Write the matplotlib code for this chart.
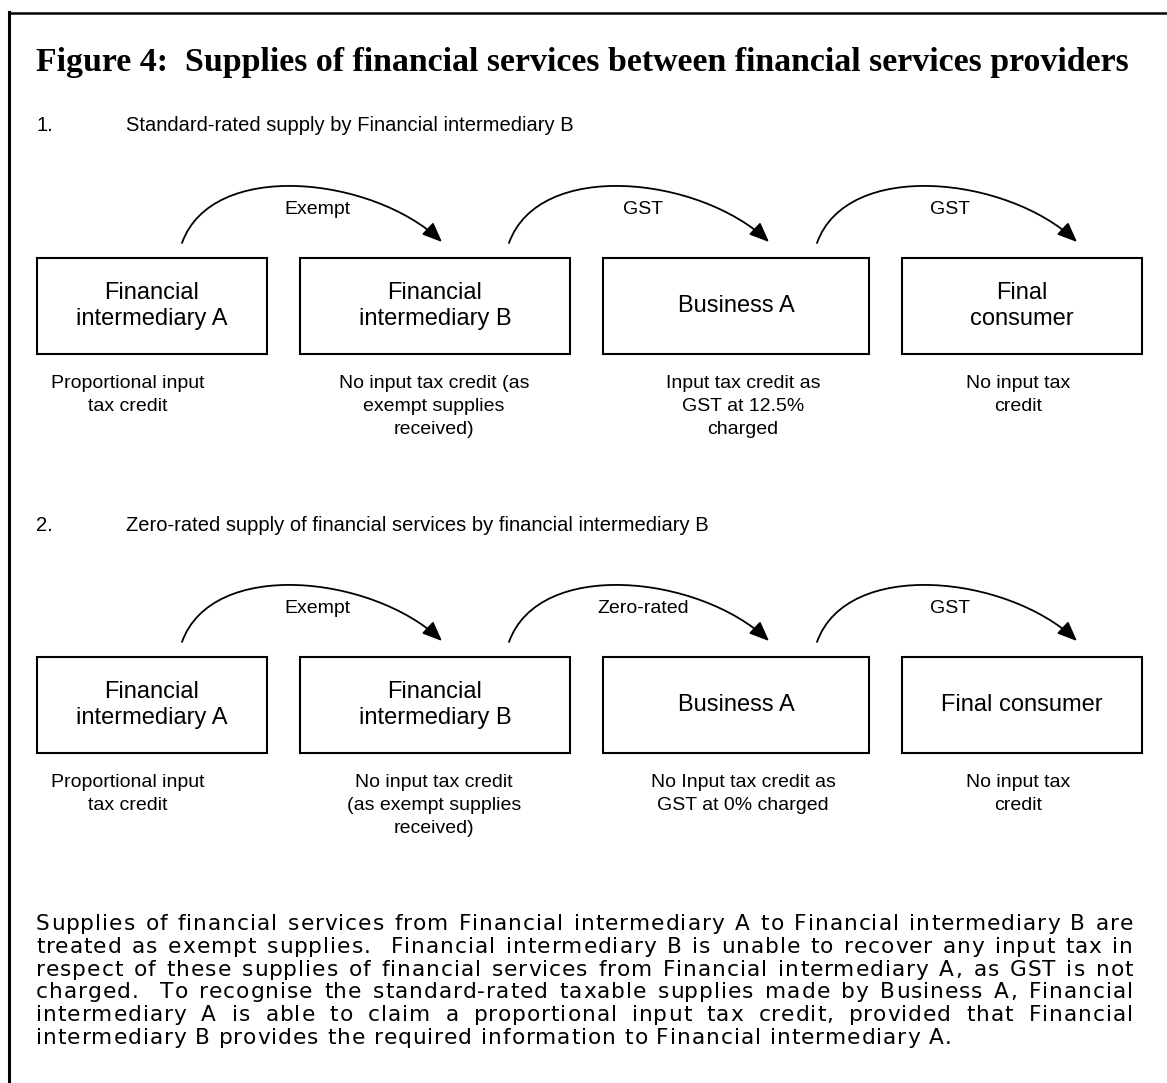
import matplotlib
matplotlib.use("Agg")
import matplotlib.pyplot as plt
from matplotlib.patches import Rectangle, FancyArrowPatch, ArrowStyle
from matplotlib.path import Path
from matplotlib.lines import Line2D

# ---------------- content ----------------
title = "Figure 4:  Supplies of financial services between financial services providers"
section_numbers = ["1.", "2."]
section_titles = ["Standard-rated supply by Financial intermediary B",
                  "Zero-rated supply of financial services by financial intermediary B"]

box_labels_1 = [["Financial", "intermediary A"], ["Financial", "intermediary B"],
                ["Business A"], ["Final", "consumer"]]
box_labels_2 = [["Financial", "intermediary A"], ["Financial", "intermediary B"],
                ["Business A"], ["Final consumer"]]

flow_labels_1 = ["Exempt", "GST", "GST"]
flow_labels_2 = ["Exempt", "Zero-rated", "GST"]

captions_1 = [["Proportional input", "tax credit"],
              ["No input tax credit (as", "exempt supplies", "received)"],
              ["Input tax credit as", "GST at 12.5%", "charged"],
              ["No input tax", "credit"]]
captions_2 = [["Proportional input", "tax credit"],
              ["No input tax credit", "(as exempt supplies", "received)"],
              ["No Input tax credit as", "GST at 0% charged"],
              ["No input tax", "credit"]]

paragraph_lines = [
    "Supplies of financial services from Financial intermediary A to Financial intermediary B are",
    "treated as exempt supplies.  Financial intermediary B is unable to recover any input tax in",
    "respect of these supplies of financial services from Financial intermediary A, as GST is not",
    "charged.  To recognise the standard-rated taxable supplies made by Business A, Financial",
    "intermediary A is able to claim a proportional input tax credit, provided that Financial",
    "intermediary B provides the required information to Financial intermediary A.",
]

# ---------------- layout (pixel coordinates) ----------------
W, H = 1167, 1083
SANS = "Liberation Sans"
SERIF = "Liberation Serif"
PARA_FONT = "DejaVu Sans"

box_x = [(37, 267), (300, 570), (603, 869), (902, 1142)]
row_offsets = [0, 399]
box_top, box_bot = 258, 354
caption_x = [128, 434, 743, 1018]
arrow_starts = [182, 509, 817]
arrow_len = 260
label_x = [317, 643, 950]

fig = plt.figure(figsize=(W / 100, H / 100), dpi=100)
ax = fig.add_axes([0, 0, 1, 1])
ax.set_xlim(0, W)
ax.set_ylim(H, 0)
ax.axis("off")

# outer frame (clipped at right and bottom)
ax.add_line(Line2D([9, 9], [12, H + 10], color="black", lw=2.2, clip_on=False))
ax.add_line(Line2D([9, W + 10], [13, 13], color="black", lw=1.8, clip_on=False))

renderer = fig.canvas.get_renderer()


def text_width(s, **kw):
    t = ax.text(0, 0, s, **kw)
    w = t.get_window_extent(renderer=renderer).width
    t.remove()
    return w


# title, fitted to span the frame width
title_size = 17.0
tw = text_width(title, fontsize=title_size, family=SERIF, fontweight="bold")
title_size *= (1133 - 36) / tw
ax.text(36, 71, title, fontsize=title_size, family=SERIF, fontweight="bold",
        ha="left", va="baseline")

# section headings
for num, st, yb in zip(section_numbers, section_titles, [131, 531]):
    ax.text(36, yb, num, fontsize=14.5, family=SANS, ha="left", va="baseline")
    ax.text(126, yb, st, fontsize=14.5, family=SANS, ha="left", va="baseline")

arrow_style = ArrowStyle("-|>", head_length=1.2, head_width=0.5)


def draw_row(off, labels, flows, caps):
    for (x0, x1), lab in zip(box_x, labels):
        ax.add_patch(Rectangle((x0, box_top + off), x1 - x0, box_bot - box_top,
                               fill=False, ec="black", lw=1.5))
        cx = (x0 + x1) / 2
        if len(lab) == 1:
            ax.text(cx, 312 + off, lab[0], fontsize=17, family=SANS,
                    ha="center", va="baseline")
        else:
            for i, s in enumerate(lab):
                ax.text(cx, 299 + 26 * i + off, s, fontsize=17, family=SANS,
                        ha="center", va="baseline")
    for sx, lx, fl in zip(arrow_starts, label_x, flows):
        S = (sx, 243 + off)
        E = (sx + arrow_len, 242 + off)
        P1 = (S[0] + 30, S[1] - 84)
        P2 = (E[0] - 70, E[1] - 66)
        path = Path([S, P1, P2, E], [Path.MOVETO, Path.CURVE4, Path.CURVE4, Path.CURVE4])
        ax.add_patch(FancyArrowPatch(path=path, arrowstyle=arrow_style,
                                     mutation_scale=10, color="black", lw=1.3))
        ax.text(lx, 214 + off, fl, fontsize=14, family=SANS,
                ha="center", va="baseline")
    for cx, cap in zip(caption_x, caps):
        for i, s in enumerate(cap):
            ax.text(cx, 388 + 23 * i + off, s, fontsize=14, family=SANS,
                    ha="center", va="baseline")


draw_row(row_offsets[0], box_labels_1, flow_labels_1, captions_1)
draw_row(row_offsets[1], box_labels_2, flow_labels_2, captions_2)

# ---------------- paragraph: wide glyphs, slight tracking, justified ----------------
ref = "intermediary B provides the required informatio"
tracking = 1.0


def make_advance(size):
    cache = {}
    kw = dict(fontsize=size, family=PARA_FONT)
    base = text_width("xx", **kw)

    def adv(c):
        if c not in cache:
            cache[c] = (text_width("x" + c * 20 + "x", **kw) - base) / 20.0
        return cache[c]
    return adv


adv0 = make_advance(14.3)
w0 = sum(adv0(c) for c in ref)
para_size = 14.3 * (600 - 36 - tracking * (len(ref) - 1)) / w0
advance = make_advance(para_size)
pkw = dict(fontsize=para_size, family=PARA_FONT)

px0, px1 = 36, 1133
for i, line in enumerate(paragraph_lines):
    yb = 930 + 22.8 * i
    last = i == len(paragraph_lines) - 1
    trk = tracking
    natural = sum(advance(c) + trk for c in line) - trk
    n_sp = line.count(" ")
    extra = 0 if last else (px1 - px0 - natural) / n_sp
    if extra < 0:  # tighten tracking so the line fits exactly
        trk = tracking + (px1 - px0 - natural) / (len(line) - 1)
        extra = 0
    x = px0
    for c in line:
        if c != " ":
            ax.text(x, yb, c, ha="left", va="baseline", **pkw)
        x += advance(c) + trk + (extra if c == " " else 0)

fig.savefig("out.png", dpi=100)
